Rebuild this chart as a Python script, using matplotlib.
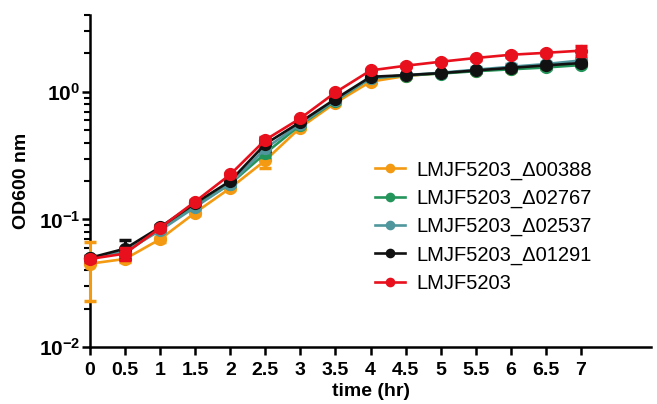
import numpy as np
import matplotlib
matplotlib.use("Agg")
import matplotlib.pyplot as plt
from matplotlib.ticker import FixedLocator, LogLocator, NullFormatter

plt.rcParams['font.family'] = ['Liberation Sans', 'DejaVu Sans']
plt.rcParams['mathtext.fontset'] = 'custom'
plt.rcParams['mathtext.rm'] = 'Liberation Sans:bold'
plt.rcParams['mathtext.bf'] = 'Liberation Sans:bold'
plt.rcParams['mathtext.default'] = 'bf'

# OD600 readings every 30 min
time_hr = [0, 0.5, 1, 1.5, 2, 2.5, 3, 3.5, 4, 4.5, 5, 5.5, 6, 6.5, 7]

od_00388 = [0.045, 0.049, 0.070, 0.113, 0.176, 0.29, 0.525, 0.82, 1.20, 1.33, 1.40, 1.46, 1.52, 1.58, 1.66]
sd_00388 = [0.022, 0.003, 0.003, 0.004, 0.006, 0.035, 0.012, 0.02, 0.03, 0.03, 0.03, 0.03, 0.04, 0.04, 0.05]

od_02767 = [0.050, 0.055, 0.084, 0.128, 0.190, 0.33, 0.55, 0.85, 1.28, 1.34, 1.39, 1.45, 1.50, 1.55, 1.62]
sd_02767 = [0.002, 0.003, 0.003, 0.004, 0.006, 0.02, 0.012, 0.02, 0.03, 0.03, 0.03, 0.03, 0.04, 0.04, 0.04]

od_02537 = [0.050, 0.056, 0.082, 0.125, 0.190, 0.36, 0.56, 0.86, 1.28, 1.35, 1.41, 1.49, 1.57, 1.65, 1.76]
sd_02537 = [0.002, 0.003, 0.003, 0.004, 0.006, 0.02, 0.012, 0.02, 0.03, 0.03, 0.03, 0.06, 0.07, 0.07, 0.06]

od_01291 = [0.050, 0.059, 0.087, 0.134, 0.200, 0.39, 0.58, 0.88, 1.31, 1.35, 1.40, 1.47, 1.54, 1.61, 1.68]
sd_01291 = [0.002, 0.010, 0.003, 0.004, 0.006, 0.045, 0.012, 0.02, 0.03, 0.03, 0.03, 0.03, 0.04, 0.04, 0.05]

od_wt = [0.049, 0.054, 0.086, 0.138, 0.225, 0.42, 0.62, 0.99, 1.47, 1.60, 1.72, 1.84, 1.95, 2.02, 2.10]
sd_wt = [0.003, 0.006, 0.003, 0.005, 0.008, 0.02, 0.02, 0.03, 0.04, 0.04, 0.04, 0.05, 0.06, 0.08, 0.20]

strains = [
    ("LMJF5203_\u039400388", od_00388, sd_00388, "#f39a12"),
    ("LMJF5203_\u039402767", od_02767, sd_02767, "#24955a"),
    ("LMJF5203_\u039402537", od_02537, sd_02537, "#4f979d"),
    ("LMJF5203_\u039401291", od_01291, sd_01291, "#111111"),
    ("LMJF5203", od_wt, sd_wt, "#e8101c"),
]

fig = plt.figure(figsize=(6.57, 4.04), dpi=100)
ax = fig.add_axes([0.137, 0.141, 0.854, 0.822])

# curves sit on top of the axis spines so the t=0 bars stay visible
for i, (label, od, sd, col) in enumerate(strains):
    eb = ax.errorbar(time_hr, od, yerr=sd, color=col, label=label, marker='o',
                     markersize=8.5, linewidth=1.9, elinewidth=2.2, capsize=4,
                     capthick=2.5, zorder=3 + i * 0.1)
    for art in eb.lines[1] + eb.lines[2] + (eb.lines[0],):
        art.set_clip_on(False)

ax.set_yscale('log')
ax.set_ylim(0.01, 4)
ax.set_xlim(0, 8)
ax.xaxis.set_major_locator(FixedLocator(time_hr))
ax.set_xticklabels(["%g" % t for t in time_hr])
ax.yaxis.set_major_locator(FixedLocator([0.01, 0.1, 1]))
ax.set_yticklabels([r'$10^{-2}$', r'$10^{-1}$', r'$10^{0}$'])
ax.yaxis.set_minor_locator(LogLocator(base=10, subs=np.arange(2, 10), numticks=20))
ax.yaxis.set_minor_formatter(NullFormatter())

for side in ['top', 'right']:
    ax.spines[side].set_visible(False)
for side in ['left', 'bottom']:
    ax.spines[side].set_linewidth(1.8)
ax.tick_params(which='major', length=6, width=1.8, labelsize=14, pad=5)
ax.tick_params(axis='y', which='major', labelsize=15, pad=1)
ax.tick_params(which='minor', length=4, width=1.5)
for lab in ax.get_xticklabels():
    lab.set_fontweight('bold')

ax.set_xlabel("time (hr)", fontsize=14, fontweight='bold', labelpad=3)
ax.set_ylabel("OD600 nm", fontsize=14, fontweight='bold', labelpad=6)

handles, labels = ax.get_legend_handles_labels()
handles = [h[0] for h in handles]
ax.legend(handles, labels, loc='center left', bbox_to_anchor=(0.476, 0.363),
          frameon=False, fontsize=14.5, handlelength=1.5, handletextpad=0.55,
          labelspacing=0.45, markerscale=0.7)

fig.savefig("out.png", dpi=100)
